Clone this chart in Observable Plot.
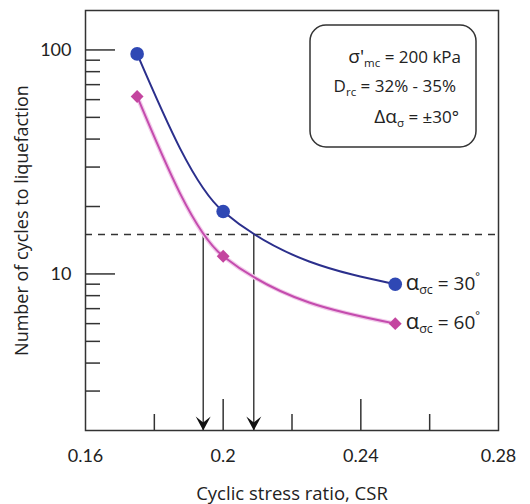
<!DOCTYPE html>
<html><head><meta charset="utf-8">
<script src="https://cdn.jsdelivr.net/npm/d3@7"></script>
<script src="https://cdn.jsdelivr.net/npm/@observablehq/plot@0.6"></script>
<style>
body{margin:0;background:#fff}
#chart svg{display:block}
</style>
</head><body><div id="chart"></div>
<script>
// ---- data ----
const csr = [0.175, 0.2, 0.25];
const cycles30 = [96, 19, 9];      // alpha_sc = 30°
const cycles60 = [62, 12, 6];      // alpha_sc = 60°
const threshold = 15;              // dashed reference level
const arrowCSR = [0.1942, 0.2089]; // CSR where curves cross N = 15
const xTickLabels = [0.16, 0.2, 0.24, 0.28];
const xMajorTicks = [0.2, 0.24];
const xMinorTicks = [0.18, 0.22, 0.26];
const yTickLabels = [10, 100];
const yMinorTicks = [3, 4, 5, 6, 7, 8, 9, 20, 30, 40, 50, 60, 70, 80, 90];

const rows30 = csr.map((x, i) => ({csr: x, n: cycles30[i]}));
const rows60 = csr.map((x, i) => ({csr: x, n: cycles60[i]}));

const W = 530, H = 504, mL = 85, mR = 32, mT = 10, mB = 74;
const fw = W - mL - mR, fh = H - mT - mB;
const axisColor = "#333";
const blueLine = "#2b2f8c", blueDot = "#2f48b4";
const pinkLine = "#c44cae", pinkGlow = "#f2cbea", pinkDot = "#c4459f";
const font = "Lato, 'Open Sans', sans-serif";
const titleFont = "'Open Sans', Lato, sans-serif";

const stealth = {
  draw(ctx) {
    ctx.moveTo(0, 0);
    ctx.lineTo(-7.5, -14);
    ctx.lineTo(0, -8);
    ctx.lineTo(7.5, -14);
    ctx.closePath();
  }
};

const plot = Plot.plot({
  width: W, height: H,
  marginLeft: mL, marginRight: mR, marginTop: mT, marginBottom: mB,
  style: {fontFamily: font, fontSize: "18px", color: "#222", background: "white"},
  x: {domain: [0.16, 0.28]},
  y: {type: "log", domain: [2, 150]},
  marks: [
    Plot.axisX({ticks: xTickLabels, tickSize: 0, tickPadding: 19, tickFormat: d => String(d), label: null, fontSize: 18}),
    Plot.axisY({ticks: yTickLabels, tickSize: 0, tickPadding: 14, tickFormat: d => String(d), label: null, fontSize: 18}),
    Plot.text(["Cyclic stress ratio, CSR"], {frameAnchor: "bottom", dy: 69, fontSize: 18.5, fontFamily: titleFont, fill: "#222"}),
    Plot.text(["Number of cycles to liquefaction"], {frameAnchor: "left", textAnchor: "middle", dx: -63, rotate: -90, fontSize: 18, fontFamily: titleFont, fill: "#222"}),
    Plot.tickX(xMajorTicks, {x: d => d, insetTop: fh - 31, stroke: axisColor, strokeWidth: 1.5}),
    Plot.tickX(xMinorTicks, {x: d => d, insetTop: fh - 16, stroke: axisColor, strokeWidth: 1.5}),
    Plot.tickY(yTickLabels, {y: d => d, insetRight: fw - 30, stroke: axisColor, strokeWidth: 1.5}),
    Plot.tickY(yMinorTicks, {y: d => d, insetRight: fw - 15, stroke: axisColor, strokeWidth: 1.5}),
    Plot.ruleY([threshold], {strokeDasharray: "7,6", stroke: axisColor, strokeWidth: 1.5}),
    Plot.ruleX(arrowCSR, {x: d => d, y1: threshold, y2: 2, stroke: "#222", strokeWidth: 1.3}),
    Plot.dot(arrowCSR, {x: d => d, frameAnchor: "bottom", symbol: stealth, fill: "#111", stroke: "none"}),
    Plot.line(rows60, {x: "csr", y: "n", curve: "monotone-x", stroke: pinkGlow, strokeWidth: 4.5}),
    Plot.line(rows60, {x: "csr", y: "n", curve: "monotone-x", stroke: pinkLine, strokeWidth: 2}),
    Plot.line(rows30, {x: "csr", y: "n", curve: "monotone-x", stroke: blueLine, strokeWidth: 2}),
    Plot.dot(rows30, {x: "csr", y: "n", r: 6.8, fill: blueDot, stroke: "none"}),
    Plot.dot(rows60, {x: "csr", y: "n", symbol: "diamond2", r: 5.8, fill: pinkDot, stroke: "none"}),
    Plot.frame({stroke: axisColor, strokeWidth: 1.5})
  ]
});

document.getElementById("chart").appendChild(plot);

// ---- annotations with sub/superscripts ----
const svg = d3.select(plot);
const xs = plot.scale("x"), ys = plot.scale("y");
const g = svg.append("g").attr("font-family", titleFont).attr("fill", "#222");

g.append("rect").attr("x", 310).attr("y", 25).attr("width", 166).attr("height", 122)
  .attr("rx", 16).attr("fill", "white").attr("stroke", axisColor).attr("stroke-width", 1.5);

function rich(parent, x, y, anchor, parts) {
  const t = parent.append("text").attr("x", x).attr("y", y).attr("text-anchor", anchor);
  let shift = 0;
  for (const [s, size, off] of parts) {
    t.append("tspan").attr("font-size", size).attr("dy", off - shift).text(s);
    shift = off;
  }
  return t;
}

rich(g, 461, 63, "end", [["σ'", 19, 0], ["mc", 11.5, 4], [" = 200 kPa", 17, 0]]);
rich(g, 456, 92, "end", [["D", 17, 0], ["rc", 11.5, 4], [" = 32% - 35%", 17, 0]]);
rich(g, 459, 123, "end", [["Δα", 19, 0], ["σ", 11.5, 4], [" = ±30°", 17, 0]]);

const lx = xs.apply(csr[2]) + 11;
rich(g, lx, ys.apply(cycles30[2]) + 6, "start", [["α", 22, 0], ["σc", 12.5, 4], [" = 30", 19, 0], ["°", 11, -10]]);
rich(g, lx, ys.apply(cycles60[2]) + 6, "start", [["α", 22, 0], ["σc", 12.5, 4], [" = 60", 19, 0], ["°", 11, -10]]);
</script>
</body></html>
